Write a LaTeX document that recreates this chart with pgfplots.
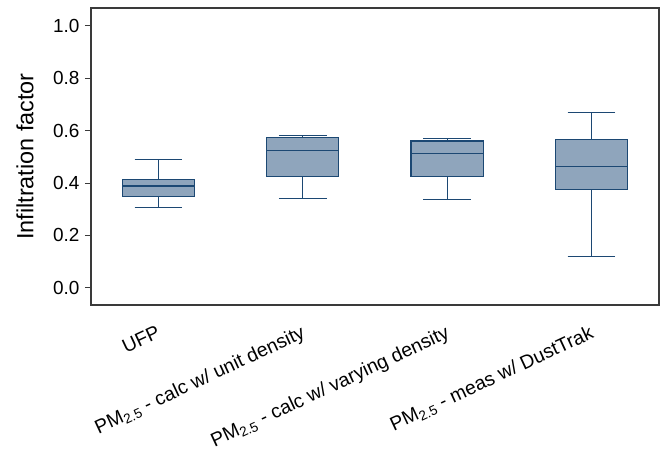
\documentclass[border=0pt]{standalone}
\usepackage{pgfplots}
\pgfplotsset{compat=1.18}
\usepgfplotslibrary{statistics}
\usepackage{fontspec}
\setmainfont{Liberation Sans}
\definecolor{boxfill}{RGB}{143,165,188}
\definecolor{boxedge}{RGB}{28,72,115}
\definecolor{frame}{RGB}{58,58,58}
\begin{document}
\begin{tikzpicture}[x=1bp,y=1bp]
\path[use as bounding box] (-91bp,-153bp) rectangle (576bp,305bp);
\begin{axis}[
  at={(0,0)}, anchor=south west,
  scale only axis, width=568bp, height=297bp,
  xmin=0.533, xmax=4.468,
  ymin=-0.066, ymax=1.068,
  axis line style={frame, line width=1.3pt},
  ytick={0,0.2,0.4,0.6,0.8,1.0},
  yticklabel style={/pgf/number format/fixed,/pgf/number format/fixed zerofill,/pgf/number format/precision=1, font=\fontsize{19}{21}\selectfont, xshift=-2bp},
  /pgf/number format/assume math mode=true,
  tick style={frame, line width=0.9pt},
  ytick pos=left,
  tick align=outside,
  major tick length=6bp,
  xtick={1,2,3,4},
  xtick style={draw=none},
  xticklabels={UFP, PM\textsubscript{2.5} - calc w/ unit density, PM\textsubscript{2.5} - calc w/ varying density, PM\textsubscript{2.5} - meas w/ DustTrak},
  xticklabel style={rotate=25, anchor=north east, font=\fontsize{19.5}{21}\selectfont, inner sep=1bp, yshift=-10bp, xshift=-7bp},
  ylabel={Infiltration factor},
  every axis y label/.style={at={([xshift=-66bp]rel axis cs:0,0.5)}, rotate=90, anchor=center, font=\fontsize{23.5}{25}\selectfont},
  clip=false,
]
\pgfplotsset{boxplot/draw direction=y, boxplot/box extend=0.5, boxplot/whisker extend=0.33}
\addplot+[boxplot prepared={draw position=1, lower whisker=0.307, lower quartile=0.349, median=0.388, upper quartile=0.412, upper whisker=0.489},
  fill=boxfill, draw=boxedge, line width=1.2pt, mark=none, solid] coordinates {};
\addplot+[boxplot prepared={draw position=2, lower whisker=0.341, lower quartile=0.425, median=0.524, upper quartile=0.574, upper whisker=0.581},
  fill=boxfill, draw=boxedge, line width=1.2pt, mark=none, solid] coordinates {};
\addplot+[boxplot prepared={draw position=3, lower whisker=0.337, lower quartile=0.426, median=0.511, upper quartile=0.560, upper whisker=0.569},
  fill=boxfill, draw=boxedge, line width=1.2pt, mark=none, solid] coordinates {};
\addplot+[boxplot prepared={draw position=4, lower whisker=0.119, lower quartile=0.375, median=0.463, upper quartile=0.567, upper whisker=0.669},
  fill=boxfill, draw=boxedge, line width=1.2pt, mark=none, solid] coordinates {};
\end{axis}
\end{tikzpicture}
\end{document}
